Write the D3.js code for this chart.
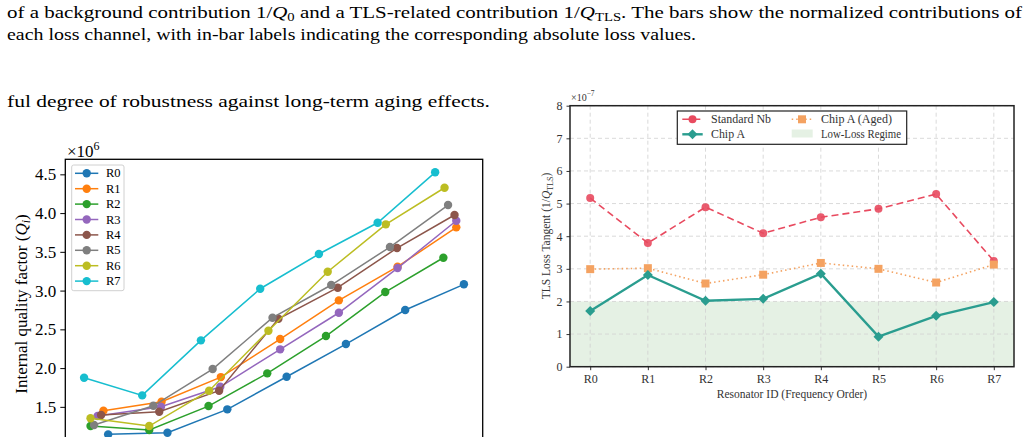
<!DOCTYPE html>
<meta charset="utf-8">
<style>
body { margin: 0; background: #fff; }
svg { display: block; font-family: "Liberation Serif", "DejaVu Serif", serif; }
.grid line { stroke: #d0d0d0; stroke-dasharray: 4,3; stroke-width: 0.8px; }
</style>
<svg width="1029" height="437"></svg>
<script src="https://cdn.jsdelivr.net/npm/d3@7"></script>
<script>
// ---- left chart data: Qi per resonator (x in arbitrary step units, axis is cut off)
var qNames = ["R0", "R1", "R2", "R3", "R4", "R5", "R6", "R7"];
var qColors = ["#1f77b4", "#ff7f0e", "#2ca02c", "#9467bd", "#8c564b", "#7f7f7f", "#bcbd22", "#17becf"];
var qX = [
  [0.73, 1.74, 2.76, 3.77, 4.78, 5.79, 6.79],
  [0.65, 1.64, 2.65, 3.66, 4.66, 5.66, 6.66],
  [0.43, 1.43, 2.44, 3.44, 4.44, 5.45, 6.44],
  [0.55, 1.63, 2.64, 3.66, 4.66, 5.66, 6.66],
  [0.61, 1.60, 2.62, 3.63, 4.64, 5.65, 6.63],
  [0.49, 1.50, 2.51, 3.53, 4.53, 5.53, 6.52],
  [0.43, 1.43, 2.45, 3.46, 4.47, 5.46, 6.46],
  [0.32, 1.31, 2.31, 3.32, 4.32, 5.32, 6.30]
];
var qY = [
  [1.145, 1.166, 1.468, 1.888, 2.310, 2.749, 3.081],
  [1.450, 1.566, 1.884, 2.375, 2.874, 3.308, 3.816],
  [1.252, 1.201, 1.510, 1.932, 2.414, 2.981, 3.424],
  [1.381, 1.501, 1.759, 2.242, 2.714, 3.291, 3.901],
  [1.394, 1.437, 1.708, 2.637, 3.037, 3.549, 3.975],
  [1.265, 1.514, 1.988, 2.650, 3.072, 3.562, 4.104],
  [1.352, 1.252, 1.708, 2.482, 3.243, 3.855, 4.327],
  [1.876, 1.648, 2.358, 3.024, 3.472, 3.875, 4.526]
];
var qTicks = [1.5, 2.0, 2.5, 3.0, 3.5, 4.0, 4.5];

// ---- right chart data: TLS loss tangent (x 1e-7)
var resonators = ["R0", "R1", "R2", "R3", "R4", "R5", "R6", "R7"];
var standardNb = [5.17, 3.79, 4.89, 4.09, 4.58, 4.84, 5.29, 3.24];
var chipAAged = [2.99, 3.02, 2.55, 2.82, 3.18, 3.00, 2.58, 3.13];
var chipA = [1.71, 2.81, 2.02, 2.08, 2.85, 0.92, 1.56, 1.98];
var lowLossLimit = 2;
var tlsTicks = [0, 1, 2, 3, 4, 5, 6, 7, 8];

var svg = d3.select("svg");

// ---- surrounding paper text
function mathText(sel, x, y, parts, size, len) {
  var t = sel.append("text").attr("x", x).attr("y", y).attr("font-size", size);
  parts.forEach(function(p) {
    var s = t.append("tspan").text(p[0]);
    if (p[1] == "i") s.attr("font-style", "italic");
    if (p[1] == "sub") s.attr("font-size", size * 0.7).attr("dy", 3);
    if (p[1] == "back") s.attr("dy", -3);
  });
  if (len) t.attr("textLength", len).attr("lengthAdjust", "spacingAndGlyphs");
  return t;
}
mathText(svg, 7, 18, [["of a background contribution 1/"], ["Q", "i"], ["0", "sub"],
  [" and a TLS-related contribution 1/", "back"], ["Q", "i"], ["TLS", "sub"],
  [". The bars show the normalized contributions of", "back"]], 17, 1015);
mathText(svg, 7, 40, [["each loss channel, with in-bar labels indicating the corresponding absolute loss values."]], 17, 689);
mathText(svg, 7, 107, [["ful degree of robustness against long-term aging effects."]], 17, 483);

// ---- left chart
var L = {left: 65.3, right: 482.7, top: 159.3, bottom: 445.6};
var xq = d3.scaleLinear().domain([0, 7.11]).range([L.left, L.right]);
var yq = d3.scaleLinear().domain([1.0, 4.694]).range([L.bottom, L.top]);
var gl = svg.append("g");

gl.append("g").attr("transform", "translate(" + L.left + ",0)")
  .call(d3.axisLeft(yq).tickValues(qTicks).tickFormat(d3.format(".1f")).tickSize(5).tickPadding(4))
  .call(function(a) {
    a.attr("font-family", null).attr("font-size", null);
    a.select(".domain").remove();
    a.selectAll("line").attr("stroke", "#000").attr("stroke-width", 1);
    a.selectAll("text").attr("font-size", 17).attr("fill", "#000");
  });

var lineQ = d3.line().x(function(d) { return xq(d[0]); }).y(function(d) { return yq(d[1]); });
qNames.forEach(function(n, i) {
  var pts = d3.zip(qX[i], qY[i]);
  gl.append("path").datum(pts).attr("d", lineQ).attr("fill", "none")
    .attr("stroke", qColors[i]).attr("stroke-width", 1.5);
  gl.selectAll(null).data(pts).enter().append("circle")
    .attr("cx", function(d) { return xq(d[0]); })
    .attr("cy", function(d) { return yq(d[1]); })
    .attr("r", 4.2).attr("fill", qColors[i]);
});

gl.append("rect").attr("x", L.left).attr("y", L.top)
  .attr("width", L.right - L.left).attr("height", L.bottom - L.top)
  .attr("fill", "none").attr("stroke", "#000").attr("stroke-width", 1.3);

var ex6 = gl.append("text").attr("x", 67).attr("y", 157).attr("font-size", 17);
ex6.append("tspan").text("\u00d710");
ex6.append("tspan").text("6").attr("font-size", 12).attr("dy", -7);

var yl = gl.append("text").attr("transform", "translate(27,304) rotate(-90)")
  .attr("text-anchor", "middle").attr("font-size", 17);
yl.append("tspan").text("Internal quality factor (");
yl.append("tspan").text("Q").attr("font-style", "italic");
yl.append("tspan").text("i").attr("font-style", "italic").attr("font-size", 12).attr("dy", 3);
yl.append("tspan").text(")").attr("dy", -3);

var lgL = gl.append("g");
lgL.append("rect").attr("x", 71.7).attr("y", 165).attr("width", 52.3).attr("height", 125.7)
  .attr("rx", 2).attr("fill", "#fff").attr("fill-opacity", 0.8).attr("stroke", "#d0d0d0");
qNames.forEach(function(n, i) {
  var yy = 173.3 + i * 15.4;
  lgL.append("line").attr("x1", 75).attr("x2", 98.3).attr("y1", yy).attr("y2", yy)
    .attr("stroke", qColors[i]).attr("stroke-width", 1.5);
  lgL.append("circle").attr("cx", 86.7).attr("cy", yy).attr("r", 4.2).attr("fill", qColors[i]);
  lgL.append("text").attr("x", 106).attr("y", yy + 4).attr("font-size", 12.5).text(n);
});

// ---- right chart
var R = {left: 570, right: 1014, top: 105.7, bottom: 366.7};
var xr = d3.scalePoint().domain(resonators).range([R.left + 20.2, R.right - 20.2]);
var yr = d3.scaleLinear().domain([0, 8]).range([R.bottom, R.top]);
var gr = svg.append("g");

gr.append("rect").attr("x", R.left).attr("y", yr(lowLossLimit))
  .attr("width", R.right - R.left).attr("height", yr(0) - yr(lowLossLimit))
  .attr("fill", "#e5f1e4");

var grid = gr.append("g").attr("class", "grid");
grid.selectAll(".gy").data(tlsTicks).enter().append("line")
  .attr("x1", R.left).attr("x2", R.right)
  .attr("y1", function(d) { return yr(d); }).attr("y2", function(d) { return yr(d); });
grid.selectAll(".gx").data(resonators).enter().append("line")
  .attr("y1", R.top).attr("y2", R.bottom)
  .attr("x1", function(d) { return xr(d); }).attr("x2", function(d) { return xr(d); });

function styleAxis(a) {
  a.attr("font-family", null).attr("font-size", null);
  a.select(".domain").remove();
  a.selectAll("line").attr("stroke", "#333");
  a.selectAll("text").attr("font-size", 12).attr("fill", "#333");
}
gr.append("g").attr("transform", "translate(" + R.left + ",0)")
  .call(d3.axisLeft(yr).tickValues(tlsTicks).tickSize(3.5).tickPadding(4)).call(styleAxis);
gr.append("g").attr("transform", "translate(0," + R.bottom + ")")
  .call(d3.axisBottom(xr).tickSize(3.5).tickPadding(4)).call(styleAxis);

var lineR = d3.line().x(function(d, i) { return xr(resonators[i]); }).y(function(d) { return yr(d); });
var sq = d3.symbol().type(d3.symbolSquare);

// standard Nb
gr.append("path").datum(standardNb).attr("d", lineR).attr("fill", "none")
  .attr("stroke", "#e84a5f").attr("stroke-width", 1.6).attr("stroke-dasharray", "7,4");
gr.selectAll(null).data(standardNb).enter().append("circle")
  .attr("cx", function(d, i) { return xr(resonators[i]); }).attr("cy", function(d) { return yr(d); })
  .attr("r", 4).attr("fill", "#e84a5f").attr("fill-opacity", 0.9);
// chip A aged
gr.append("path").datum(chipAAged).attr("d", lineR).attr("fill", "none")
  .attr("stroke", "#f4a261").attr("stroke-width", 1.6).attr("stroke-dasharray", "1.5,3");
gr.selectAll(null).data(chipAAged).enter().append("path")
  .attr("d", sq.size(64))
  .attr("transform", function(d, i) { return "translate(" + xr(resonators[i]) + "," + yr(d) + ")"; })
  .attr("fill", "#f4a261");
// chip A
gr.append("path").datum(chipA).attr("d", lineR).attr("fill", "none")
  .attr("stroke", "#2a9d8f").attr("stroke-width", 2.4);
gr.selectAll(null).data(chipA).enter().append("path")
  .attr("d", d3.symbol().type(d3.symbolSquare).size(50))
  .attr("transform", function(d, i) { return "translate(" + xr(resonators[i]) + "," + yr(d) + ") rotate(45)"; })
  .attr("fill", "#2a9d8f");

gr.append("rect").attr("x", R.left).attr("y", R.top)
  .attr("width", R.right - R.left).attr("height", R.bottom - R.top)
  .attr("fill", "none").attr("stroke", "#222").attr("stroke-width", 1.5);

var ex7 = gr.append("text").attr("x", 571).attr("y", 101).attr("font-size", 10).attr("fill", "#333");
ex7.append("tspan").text("\u00d710");
ex7.append("tspan").text("\u22127").attr("font-size", 7.5).attr("dy", -5);

var yr2 = gr.append("text").attr("transform", "translate(550,236) rotate(-90)")
  .attr("text-anchor", "middle").attr("font-size", 11.5).attr("fill", "#333");
yr2.append("tspan").text("TLS Loss Tangent (1/");
yr2.append("tspan").text("Q").attr("font-style", "italic");
yr2.append("tspan").text("TLS").attr("font-size", 8).attr("dy", 2.5);
yr2.append("tspan").text(")").attr("dy", -2.5);

gr.append("text").attr("x", (R.left + R.right) / 2).attr("y", 398).attr("text-anchor", "middle")
  .attr("font-size", 11.5).attr("fill", "#333").text("Resonator ID (Frequency Order)");

var lgR = gr.append("g");
lgR.append("rect").attr("x", 677.3).attr("y", 111).attr("width", 229.4).attr("height", 33.3)
  .attr("fill", "#fff").attr("stroke", "#222").attr("stroke-width", 1.2);
function legLine(x, y, col, w, dash) {
  lgR.append("line").attr("x1", x).attr("x2", x + 20.4).attr("y1", y).attr("y2", y)
    .attr("stroke", col).attr("stroke-width", w).attr("stroke-dasharray", dash);
}
legLine(682.3, 119.3, "#e84a5f", 1.6, "7,4");
lgR.append("circle").attr("cx", 692.5).attr("cy", 119.3).attr("r", 4).attr("fill", "#e84a5f");
legLine(682.3, 134.3, "#2a9d8f", 2.4, null);
lgR.append("path").attr("d", d3.symbol().type(d3.symbolSquare).size(50)())
  .attr("transform", "translate(692.5,134.3) rotate(45)").attr("fill", "#2a9d8f");
legLine(791.7, 119.3, "#f4a261", 1.6, "1.5,3");
lgR.append("path").attr("d", d3.symbol().type(d3.symbolSquare).size(64)())
  .attr("transform", "translate(802,119.3)").attr("fill", "#f4a261");
lgR.append("rect").attr("x", 791.7).attr("y", 129.5).attr("width", 21).attr("height", 8)
  .attr("fill", "#e5f1e4");
[["Standard Nb", 711, 119.3, 60], ["Chip A", 711, 134.3, 34], ["Chip A (Aged)", 821, 119.3, 71], ["Low-Loss Regime", 821, 134.3, 80]]
  .forEach(function(d) {
    lgR.append("text").attr("x", d[1]).attr("y", d[2] + 4).attr("font-size", 11.5)
      .attr("fill", "#333").attr("textLength", d[3]).attr("lengthAdjust", "spacingAndGlyphs").text(d[0]);
  });
</script>
